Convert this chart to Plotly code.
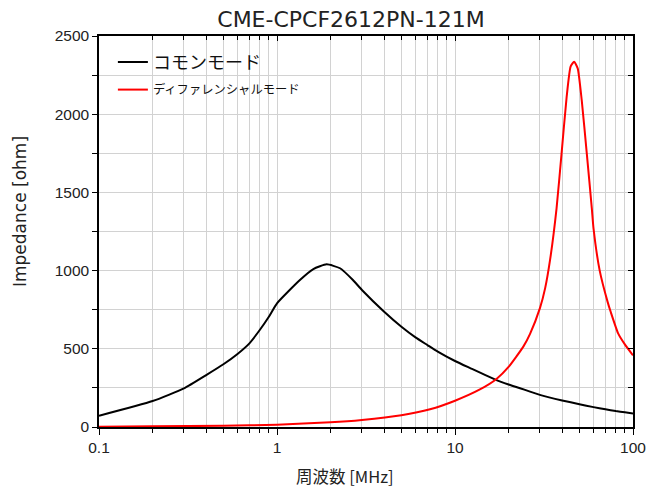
import plotly.graph_objects as go

# Common mode impedance (black)
cm_freq = [0.1, 0.2, 0.3, 0.4, 0.5, 0.6, 0.7, 0.8, 0.9, 1.0, 1.345, 1.6, 1.9, 2.26, 2.67, 3.0, 4.0, 5.0, 6.0, 7.0, 8.0, 10, 12.1, 17.1, 20, 23.2, 26.4, 30.3, 40, 50, 60, 70, 80, 90, 100]
cm_imp = [72, 166, 247, 332, 401, 467, 535, 620, 705, 791, 940, 1010, 1040, 1015, 940, 876, 737, 641, 573, 524, 482, 422, 378, 300, 272, 248, 226, 204, 170, 146, 127, 113, 102, 94, 87]

# Differential mode impedance (red)
dm_freq = [0.1, 0.2, 0.5, 1.0, 2.0, 3.0, 5.0, 7.24, 10, 13.8, 17.1, 20, 24.2, 26.4, 30, 32.1, 34.2, 37.2, 39.7, 42.4, 44.6, 46.7, 48.9, 51.5, 55, 58.7, 60, 65, 72, 75, 82.5, 90, 100]
dm_imp = [2, 4, 8, 15, 30, 45, 75, 113, 168, 240, 307, 384, 514, 596, 760, 888, 1068, 1398, 1750, 2112, 2304, 2336, 2293, 2091, 1750, 1398, 1270, 1000, 800, 735, 599, 528, 458]

series_names = ["コモンモード", "ディファレンシャルモード"]
title_text = "CME-CPCF2612PN-121M"
x_title = "周波数 [MHz]"
y_title = "Impedance [ohm]"
x_major = [0.1, 1, 10, 100]
x_major_text = ["0.1", "1", "10", "100"]
x_minor = [m * d for d in (0.1, 1, 10) for m in range(2, 10)]

fig = go.Figure()
fig.add_trace(go.Scatter(x=cm_freq, y=cm_imp, mode="lines", name=series_names[0],
                         line=dict(color="#000000", width=2, shape="spline", smoothing=0.5),
                         legend="legend"))
fig.add_trace(go.Scatter(x=dm_freq, y=dm_imp, mode="lines", name=series_names[1],
                         line=dict(color="#ff0000", width=2, shape="spline", smoothing=0.5),
                         legend="legend2"))
# dummy trace to activate mirrored top/right axes
fig.add_trace(go.Scatter(x=[None], y=[None], xaxis="x2", yaxis="y2", showlegend=False, hoverinfo="skip"))

grid = "#d2d2d2"
W, H = 649, 488
fig.update_layout(
    width=W, height=H,
    margin=dict(l=99, r=16, t=36, b=61, autoexpand=False),
    paper_bgcolor="white", plot_bgcolor="white",
    font=dict(family="Liberation Sans, Arial, sans-serif", color="#222222"),
    title=dict(text=title_text, x=351 / W, xref="container", xanchor="center",
               y=1 - 19 / H, yref="container", yanchor="middle",
               font=dict(family="DejaVu Sans", size=22, color="#222222")),
    showlegend=True,
    xaxis=dict(type="log", range=[-1, 2], tickvals=x_major, ticktext=x_major_text,
               ticks="outside", ticklen=6, tickcolor="black", tickwidth=1, automargin=False,
               showline=True, linecolor="black", linewidth=1.5,
               showgrid=True, gridcolor=grid, gridwidth=1, zeroline=False,
               tickfont=dict(size=15.5, color="#222222"),
               minor=dict(tickvals=x_minor, ticks="outside", ticklen=4, tickcolor="black",
                          showgrid=True, gridcolor=grid, gridwidth=1)),
    yaxis=dict(range=[0, 2500], dtick=500, ticks="outside", ticklen=5, tickcolor="black",
               showline=True, linecolor="black", linewidth=1.5, automargin=False,
               showgrid=True, gridcolor=grid, gridwidth=1, zeroline=False,
               tickfont=dict(size=15.5, color="#222222"),
               minor=dict(dtick=250, ticks="outside", ticklen=5, tickcolor="black",
                          showgrid=True, gridcolor=grid, gridwidth=1)),
    xaxis2=dict(type="log", range=[-1, 2], overlaying="x", side="top", anchor="y2",
                tickvals=x_major, ticks="inside", ticklen=5, tickcolor="black", automargin=False,
                showticklabels=False, showgrid=False, zeroline=False,
                showline=True, linecolor="black", linewidth=1.5,
                minor=dict(tickvals=x_minor, ticks="inside", ticklen=4, tickcolor="black", showgrid=False)),
    yaxis2=dict(range=[0, 2500], overlaying="y", side="right", anchor="x2",
                dtick=250, ticks="inside", ticklen=5, tickcolor="black", automargin=False,
                showticklabels=False, showgrid=False, zeroline=False,
                showline=True, linecolor="black", linewidth=1.5),
    legend=dict(x=0.026, y=0.98, xanchor="left", yanchor="top", bgcolor="rgba(0,0,0,0)",
                font=dict(family="Noto Sans CJK JP", size=18, color="#111111"),
                itemwidth=30, tracegroupgap=0),
    legend2=dict(x=0.026, y=0.90, xanchor="left", yanchor="top", bgcolor="rgba(0,0,0,0)",
                 font=dict(family="Noto Sans CJK JP", size=12.3, color="#111111"),
                 itemwidth=30, tracegroupgap=0),
    annotations=[
        dict(text=x_title, xref="paper", yref="paper", x=(345 - 99) / 534, y=(427 - 476) / 391,
             xanchor="center", yanchor="middle", showarrow=False,
             font=dict(family="Noto Sans CJK JP, DejaVu Sans", size=16.5, color="#222222")),
        dict(text=y_title, xref="paper", yref="paper", x=(20 - 99) / 534, y=(427 - 212) / 391,
             xanchor="center", yanchor="middle", showarrow=False, textangle=-90,
             font=dict(family="DejaVu Sans", size=17, color="#222222")),
    ],
)

# remove the default 8px page margin so the figure fills the window exactly
fig.write_html("out.html", config={"displayModeBar": False},
               post_script="document.body.style.margin='0';")
